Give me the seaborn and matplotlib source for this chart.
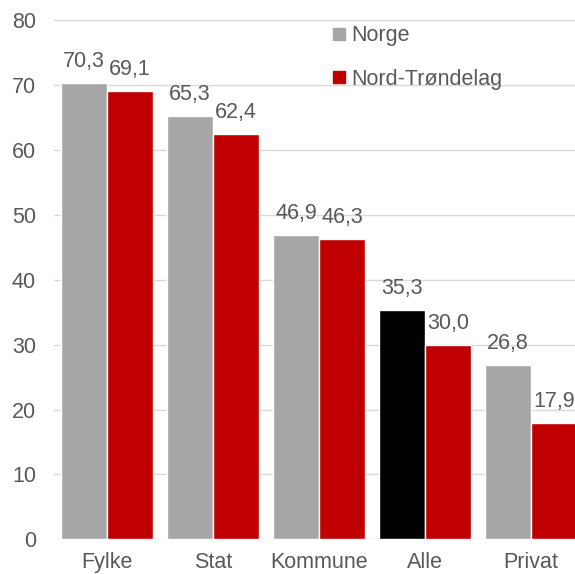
import pandas as pd
import matplotlib
matplotlib.use("Agg")
import matplotlib.pyplot as plt
from matplotlib.lines import Line2D
import seaborn as sns

# data
categories = ["Fylke", "Stat", "Kommune", "Alle", "Privat"]
norge = [70.3, 65.3, 46.9, 35.3, 26.8]
nord_trondelag = [69.1, 62.4, 46.3, 30.0, 17.9]
series = ["Norge", "Nord-Trøndelag"]
yticks = [0, 10, 20, 30, 40, 50, 60, 70, 80]

df = pd.DataFrame({
    "kategori": categories * 2,
    "verdi": norge + nord_trondelag,
    "serie": [series[0]] * len(categories) + [series[1]] * len(categories),
})

sns.set_theme(style="white")
plt.rcParams["font.family"] = ["Liberation Sans", "DejaVu Sans"]
text_color = "#595959"
grey = "#A6A6A6"
red = "#C00000"
fs = 15.5

fig = plt.figure(figsize=(5.75, 5.74), dpi=100)
ax = fig.add_axes([54 / 575, 34.7 / 574, 530 / 575, 519 / 574])

sns.barplot(data=df, x="kategori", y="verdi", hue="serie",
            palette=[grey, red], width=0.87, gap=0.02,
            saturation=1, ax=ax, legend=False)

# highlight "Alle" for Norge in black
ax.containers[0][categories.index("Alle")].set_facecolor("black")

for cont in ax.containers:
    ax.bar_label(cont, labels=[f"{b.get_height():.1f}".replace(".", ",") for b in cont],
                 padding=8, fontsize=fs, color=text_color)

ax.set_ylim(0, 80)
ax.set_yticks(yticks)
ax.set_xlim(-0.5, len(categories) - 0.5)
ax.yaxis.grid(True, color="#D9D9D9", linewidth=1)
ax.set_axisbelow(True)
for s in ax.spines.values():
    s.set_visible(False)
ax.tick_params(axis="both", length=0, labelsize=fs, labelcolor=text_color)
ax.tick_params(axis="y", pad=13)
ax.tick_params(axis="x", pad=9)
ax.set_xlabel("")
ax.set_ylabel("")

handles = [Line2D([], [], marker="s", linestyle="", markersize=8, color=c) for c in [grey, red]]
fig.legend(handles, series, loc="upper left", bbox_to_anchor=(309 / 575, 1 - 6 / 574),
           frameon=False, fontsize=fs, labelcolor=text_color, handletextpad=0.05,
           labelspacing=1.05, handlelength=1.0)

plt.savefig("out.png", dpi=100)
